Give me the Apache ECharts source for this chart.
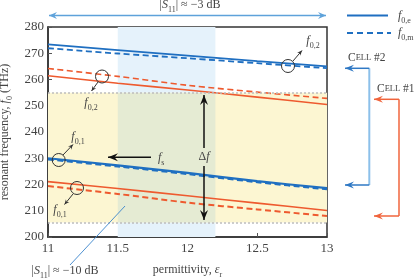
<!DOCTYPE html>
<html><head><meta charset="utf-8">
<script src="https://cdn.jsdelivr.net/npm/echarts@6/dist/echarts.min.js"></script>
<style>html,body{margin:0;padding:0;background:#fff}#c{width:415px;height:279px}</style>
</head><body><div id="c"></div>
<script>
// ---- data ----
const permittivity = [11, 11.5, 12, 12.5, 13];
const cell2_fe_upper = [273.4, 271.2, 269.1, 267.0, 265.0];
const cell2_fm_upper = [271.9, 269.9, 268.1, 266.2, 264.3];
const cell1_fm_upper = [264.2, 261.2, 257.8, 255.2, 252.8];
const cell1_fe_upper = [261.4, 258.6, 256.0, 253.3, 250.5];
const cell2_fe_lower = [230.0, 227.3, 224.4, 221.3, 218.6];
const cell2_fm_lower = [229.6, 226.9, 224.0, 220.9, 218.2];
const cell1_fe_lower = [221.1, 218.5, 215.7, 212.9, 210.1];
const cell1_fm_lower = [219.4, 216.4, 213.1, 210.5, 208.0];
const xTicks = [11, 11.5, 12, 12.5, 13];
const yTicks = [200, 210, 220, 230, 240, 250, 260, 270, 280];
const bandY = [205.5, 255];      // yellow band (|S11| ~ -10 dB)
const bandX = [11.5, 12.2];      // light-blue band (|S11| ~ -3 dB)

const BLUE = '#1f6fc1', ORANGE = '#ee5a2f';
const SERIF = '"Liberation Serif","DejaVu Serif",serif';
const pts = arr => permittivity.map((x, i) => [x, arr[i]]);

const chart = echarts.init(document.getElementById('c'), null, {renderer: 'canvas'});

function line(name, arr, color, dashed, w) {
  return {
    name, type: 'line', data: pts(arr), symbol: 'none', smooth: 0.3, z: 3,
    lineStyle: {color, width: w, type: dashed ? [6, 3.5] : 'solid'}
  };
}

const rich = {
  i: {fontFamily: SERIF, fontStyle: 'italic', fontSize: 12, color: '#444'},
  s: {fontFamily: SERIF, fontSize: 8, color: '#444', verticalAlign: 'bottom', lineHeight: 10, padding: [0, 0, -3, 0]},
  r: {fontFamily: SERIF, fontSize: 12, color: '#444'}
};

// ---- graphic helpers (annotations) ----
const G = [];
function arrowHead(x1, y1, x2, y2, color, L, W) {
  const len = Math.hypot(x2 - x1, y2 - y1), dx = (x2 - x1) / len, dy = (y2 - y1) / len;
  const nx = -dy, ny = dx;
  return {type: 'polygon', z: 20, shape: {points: [
    [x2, y2], [x2 - L * dx + W * nx, y2 - L * dy + W * ny], [x2 - 0.65 * L * dx, y2 - 0.65 * L * dy], [x2 - L * dx - W * nx, y2 - L * dy - W * ny]
  ]}, style: {fill: color}};
}
function seg(x1, y1, x2, y2, color, w, dash) {
  G.push({type: 'line', z: 20, shape: {x1, y1, x2, y2}, style: {stroke: color, lineWidth: w, lineDash: dash || null}});
}
function arrow(x1, y1, x2, y2, color, w, L, W, both) {
  seg(x1, y1, x2, y2, color, w);
  G.push(arrowHead(x1, y1, x2, y2, color, L, W));
  if (both) G.push(arrowHead(x2, y2, x1, y1, color, L, W));
}
function txt(x, y, text, align, extraRich, fill) {
  G.push({type: 'text', z: 21, x, y, style: {text, rich: Object.assign({}, rich, extraRich || {}), align: align || 'center', verticalAlign: 'middle', fill: fill || '#444', font: '12px ' + SERIF}});
}
function ring(cx, cy, r) {
  G.push({type: 'circle', z: 20, shape: {cx, cy, r}, style: {fill: 'none', stroke: '#333', lineWidth: 1}});
}

// top |S11| ~ -3 dB arrow
arrow(49, 15.5, 326, 15.5, '#5ea2da', 1.5, 8, 3.5, true);
txt(190, 5, '|{i|S}{s|11}|{r| ≈ −3 dB}');
// bottom |S11| ~ -10 dB
seg(70, 265, 125, 206, '#3a85cc', 0.9);
txt(65, 271, '|{i|S}{s|11}|{r| ≈ −10 dB}');
// Δf arrows
arrow(204, 148, 204, 95, '#111', 1.5, 10, 4);
arrow(204, 166, 204, 220, '#111', 1.5, 10, 4);
txt(204, 157, '{r|Δ}{i|f}');
// f_s arrow
arrow(151, 157.3, 108, 157.3, '#111', 1.5, 10, 4);
txt(158, 157.5, '{i|f}{s|s}', 'left');
// loops
ring(102, 76.5, 6.5); arrow(98, 82, 91.5, 91, '#333', 1, 5, 2.2); txt(91, 103, '{i|f}{s|0,2}');
ring(288, 66, 6.5); arrow(293, 61, 302, 50.5, '#333', 1, 5, 2.2); txt(313, 41, '{i|f}{s|0,2}');
ring(58.7, 160, 6.5); arrow(63, 155, 73, 144.5, '#333', 1, 5, 2.2); txt(78, 137, '{i|f}{s|0,1}');
ring(77, 188, 6.5); arrow(73, 194, 64.5, 204.5, '#333', 1, 5, 2.2); txt(60, 210, '{i|f}{s|0,1}');
// legend
seg(347, 15.5, 388, 15.5, BLUE, 2);
seg(347, 33, 391, 33, BLUE, 2, [6, 4]);
txt(398, 16, '{i|f}{s|0,e}', 'left');
txt(398, 33, '{i|f}{s|0,m}', 'left');
// cell brackets
const capsB = {c: {fontFamily: SERIF, fontSize: 11.5, color: '#3d8ad0'}, k: {fontFamily: SERIF, fontSize: 8.5, color: '#3d8ad0'}};
const capsO = {c: {fontFamily: SERIF, fontSize: 11.5, color: '#f29a40'}, k: {fontFamily: SERIF, fontSize: 8.5, color: '#f29a40'}};
txt(348, 57.5, '{c|C}{k|ELL}{c| #2}', 'left', capsB);
txt(377, 89, '{c|C}{k|ELL}{c| #1}', 'left', capsO);
seg(369.3, 68.3, 369.3, 185, '#8cc0ea', 2);
arrow(369.3, 68.3, 345, 68.3, '#2f78c4', 1.5, 9, 3.5);
arrow(369.3, 185, 345, 185, '#2f78c4', 1.5, 9, 3.5);
seg(399, 99.3, 399, 216, '#f0643c', 1.5);
arrow(399, 99.3, 374, 99.3, '#f0643c', 1.5, 9, 3.5);
arrow(399, 216, 374, 216, '#f0643c', 1.5, 9, 3.5);

const option = {
  animation: false,
  backgroundColor: '#fff',
  grid: {left: 48, right: 88, top: 27, bottom: 42, containLabel: false, outerBoundsMode: 'none',
    show: true, borderColor: '#333', borderWidth: 1.5, backgroundColor: 'transparent'},
  xAxis: {
    type: 'value', min: xTicks[0], max: xTicks[xTicks.length - 1], interval: 0.5,
    name: 'permittivity, {i|ε}{s|r}', nameLocation: 'middle', nameGap: 27,
    nameTextStyle: {fontFamily: SERIF, fontSize: 12, color: '#444', rich},
    axisLine: {lineStyle: {color: '#333', width: 1.5}},
    axisTick: {inside: true, length: 4, lineStyle: {color: '#555'}},
    axisLabel: {fontFamily: SERIF, fontSize: 13, color: '#444', margin: 5},
    splitLine: {show: false}
  },
  yAxis: {
    type: 'value', min: yTicks[0], max: yTicks[yTicks.length - 1], interval: 10,
    name: 'resonant frequency, {i|f}{s|0}{r| (THz)}', nameLocation: 'middle', nameGap: 32, nameRotate: 90,
    nameTextStyle: {fontFamily: SERIF, fontSize: 12, color: '#444', rich},
    axisLine: {lineStyle: {color: '#333', width: 1.5}},
    axisTick: {inside: true, length: 4, lineStyle: {color: '#555'}},
    axisLabel: {fontFamily: SERIF, fontSize: 13, color: '#444', margin: 4},
    splitLine: {show: false}
  },
  series: [
    {
      type: 'line', data: [], z: 1, silent: true,
      markArea: {silent: true, data: [
        [{xAxis: xTicks[0], yAxis: bandY[0], itemStyle: {color: '#fcf6d2'}}, {xAxis: xTicks[xTicks.length - 1], yAxis: bandY[1]}],
        [{xAxis: bandX[0], yAxis: yTicks[0], itemStyle: {color: '#e5f2fb'}}, {xAxis: bandX[1], yAxis: bandY[0]}],
        [{xAxis: bandX[0], yAxis: bandY[1], itemStyle: {color: '#e5f2fb'}}, {xAxis: bandX[1], yAxis: yTicks[yTicks.length - 1]}],
        [{xAxis: bandX[0], yAxis: bandY[0], itemStyle: {color: '#e5ebd3'}}, {xAxis: bandX[1], yAxis: bandY[1]}]
      ]},
      markLine: {silent: true, symbol: 'none', label: {show: false},
        lineStyle: {color: '#bdbdbd', type: [2, 2], width: 1.5},
        data: [{yAxis: bandY[0]}, {yAxis: bandY[1]}]}
    },
    line('cell2 f0m upper', cell2_fm_upper, BLUE, true, 1.8),
    line('cell2 f0e upper', cell2_fe_upper, BLUE, false, 1.8),
    line('cell1 f0m upper', cell1_fm_upper, ORANGE, true, 1.6),
    line('cell1 f0e upper', cell1_fe_upper, ORANGE, false, 1.6),
    line('cell2 f0m lower', cell2_fm_lower, BLUE, true, 2.2),
    line('cell2 f0e lower', cell2_fe_lower, BLUE, false, 2.2),
    line('cell1 f0m lower', cell1_fm_lower, ORANGE, true, 2),
    line('cell1 f0e lower', cell1_fe_lower, ORANGE, false, 1.6)
  ],
  graphic: G
};
chart.setOption(option);
</script>
</body></html>
